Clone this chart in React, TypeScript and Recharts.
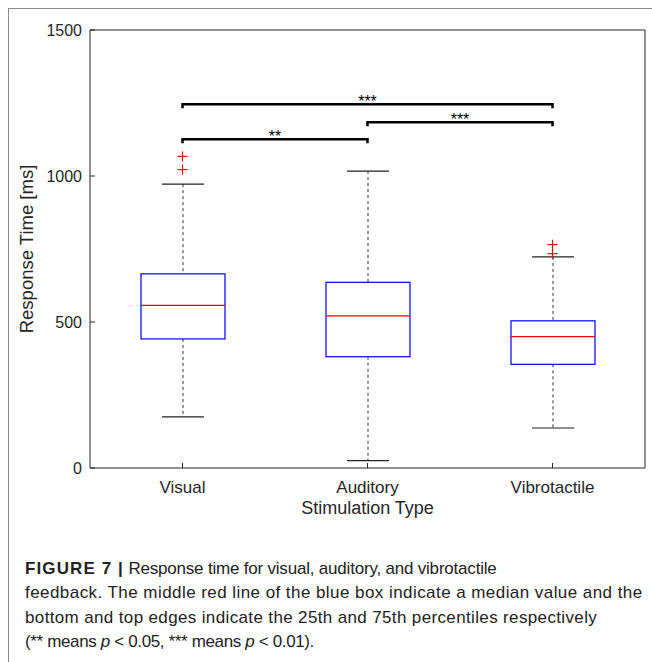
import React from 'react';
import { ComposedChart, Bar, Line, XAxis, YAxis, ReferenceLine } from 'recharts';

const categories = ['Visual', 'Auditory', 'Vibrotactile'];
const lowerWhisker = [175, 25, 137];
const q1 = [442, 381, 355];
const medians = [557, 521, 450];
const q3 = [665, 636, 504];
const upperWhisker = [972, 1017, 723];
const outliersLow = [1022, null, 734];
const outliersHigh = [1067, null, 765];
const yTicks = [0, 500, 1000, 1500];

// significance brackets between groups
const bracketFrom = ['Visual', 'Auditory', 'Visual'];
const bracketTo = ['Vibrotactile', 'Vibrotactile', 'Auditory'];
const bracketLevel = [1246, 1184, 1126];
const bracketStars = ['***', '***', '**'];

const data = categories.map((name, i) => ({
  name,
  span: [lowerWhisker[i], upperWhisker[i]],
  lo: lowerWhisker[i],
  q1: q1[i],
  med: medians[i],
  q3: q3[i],
  hi: upperWhisker[i],
  outA: outliersLow[i],
  outB: outliersHigh[i],
}));

const FONT = '"Liberation Sans", Arial, Helvetica, sans-serif';
const AXIS = '#262626';

const BoxShape = (props: any) => {
  const { x, y, width, height, payload } = props;
  const k = height / (payload.hi - payload.lo);
  const py = (v: number) => y + (payload.hi - v) * k;
  const cx = x + width / 2;
  const cap = width / 4;
  return (
    <g>
      <line x1={cx} x2={cx} y1={py(payload.hi)} y2={py(payload.q3)} stroke="#333" strokeDasharray="3 3" />
      <line x1={cx} x2={cx} y1={py(payload.q1)} y2={py(payload.lo)} stroke="#333" strokeDasharray="3 3" />
      <line x1={cx - cap} x2={cx + cap} y1={py(payload.hi)} y2={py(payload.hi)} stroke="#222" strokeWidth={1.2} />
      <line x1={cx - cap} x2={cx + cap} y1={py(payload.lo)} y2={py(payload.lo)} stroke="#222" strokeWidth={1.2} />
      <rect x={x} y={py(payload.q3)} width={width} height={py(payload.q1) - py(payload.q3)} fill="none" stroke="#0000ff" strokeWidth={1.2} />
      <line x1={x} x2={x + width} y1={py(payload.med)} y2={py(payload.med)} stroke="#ff0000" strokeWidth={1.2} />
    </g>
  );
};

const PlusDot = (props: any) => {
  const { cx, cy, index } = props;
  if (cy == null || isNaN(cy)) return <g key={`p${index}`} />;
  return (
    <g key={`p${index}`}>
      <line x1={cx - 5} x2={cx + 5} y1={cy} y2={cy} stroke="#ff0000" strokeWidth={1.2} />
      <line x1={cx} x2={cx} y1={cy - 5} y2={cy + 5} stroke="#ff0000" strokeWidth={1.2} />
    </g>
  );
};

const BracketShape = (p: any) => {
  const { x1, y1, x2, y2 } = p;
  return (
    <path
      d={`M${x1},${y1 + 4}L${x1},${y1}L${x2},${y2}L${x2},${y2 + 4}`}
      fill="none"
      stroke="#000"
      strokeWidth={2.5}
    />
  );
};

const starLabel = (stars: string) => (lp: any) => {
  const vb = lp.viewBox;
  return (
    <text x={vb.x + vb.width / 2} y={vb.y + 3} textAnchor="middle" fontSize={16} fill="#000">
      {stars}
    </text>
  );
};

const App: React.FC = () => {
  return (
    <div style={{ position: 'absolute', left: 0, top: 0, width: 652, height: 662, background: '#fff', fontFamily: FONT, overflow: 'hidden' }}>
      <div style={{ position: 'absolute', left: 8, top: 8, width: 644, height: 654, borderTop: '1px solid #8a8a8a', borderLeft: '1px solid #8a8a8a', boxSizing: 'border-box' }} />
      <div style={{ position: 'absolute', left: 0, top: 0 }}>
        <ComposedChart width={652} height={540} data={data} margin={{ top: 29, right: 6, bottom: 12, left: 30 }}>
          <XAxis
            dataKey="name"
            interval={0}
            stroke={AXIS}
            tickSize={-5}
            tickMargin={18}
            height={60}
            tick={{ fill: AXIS, fontSize: 17 }}
            label={(lp: any) => (
              <text x={lp.viewBox.x + lp.viewBox.width / 2} y={lp.viewBox.y + 46} textAnchor="middle" fontSize={18} fill={AXIS}>
                Stimulation Type
              </text>
            )}
          />
          <XAxis xAxisId="top" orientation="top" dataKey="name" interval={0} height={1} stroke={AXIS} tickSize={-5} tick={false} />
          <YAxis
            type="number"
            domain={[0, 1500]}
            ticks={yTicks}
            width={60}
            stroke={AXIS}
            tickSize={-5}
            tickMargin={13}
            tick={{ fill: AXIS, fontSize: 16 }}
            label={(lp: any) => {
              const cy = lp.viewBox.y + lp.viewBox.height / 2;
              const bx = lp.viewBox.x + 3;
              return (
                <text x={bx} y={cy} transform={`rotate(-90, ${bx}, ${cy})`} textAnchor="middle" fontSize={18.5} fill={AXIS}>
                  Response Time [ms]
                </text>
              );
            }}
          />
          <YAxis yAxisId="right" orientation="right" type="number" domain={[0, 1500]} ticks={yTicks} width={1} stroke={AXIS} tickSize={-5} tick={false} />
          <Bar dataKey="span" barSize={84} shape={BoxShape} isAnimationActive={false} />
          <Line dataKey="outA" stroke="none" dot={PlusDot} activeDot={false} isAnimationActive={false} />
          <Line dataKey="outB" stroke="none" dot={PlusDot} activeDot={false} isAnimationActive={false} />
          {bracketLevel.map((lvl, i) => (
            <ReferenceLine
              key={i}
              segment={[{ x: bracketFrom[i], y: lvl }, { x: bracketTo[i], y: lvl }]}
              shape={BracketShape}
              label={starLabel(bracketStars[i])}
            />
          ))}
        </ComposedChart>
      </div>
      <div style={{ position: 'absolute', left: 25, top: 556.5, fontSize: 17, lineHeight: '24.5px', color: '#222', whiteSpace: 'nowrap' }}>
        <div style={{ letterSpacing: -0.2 }}>
          <b style={{ letterSpacing: 1.1 }}>FIGURE 7 |</b> Response time for visual, auditory, and vibrotactile
        </div>
        <div style={{ letterSpacing: 0.44 }}>feedback. The middle red line of the blue box indicate a median value and the</div>
        <div style={{ letterSpacing: 0.36 }}>bottom and top edges indicate the 25th and 75th percentiles respectively</div>
        <div style={{ letterSpacing: -0.36 }}>
          (** means <i>p</i> &lt; 0.05, *** means <i>p</i> &lt; 0.01).
        </div>
      </div>
    </div>
  );
};

export default App;
